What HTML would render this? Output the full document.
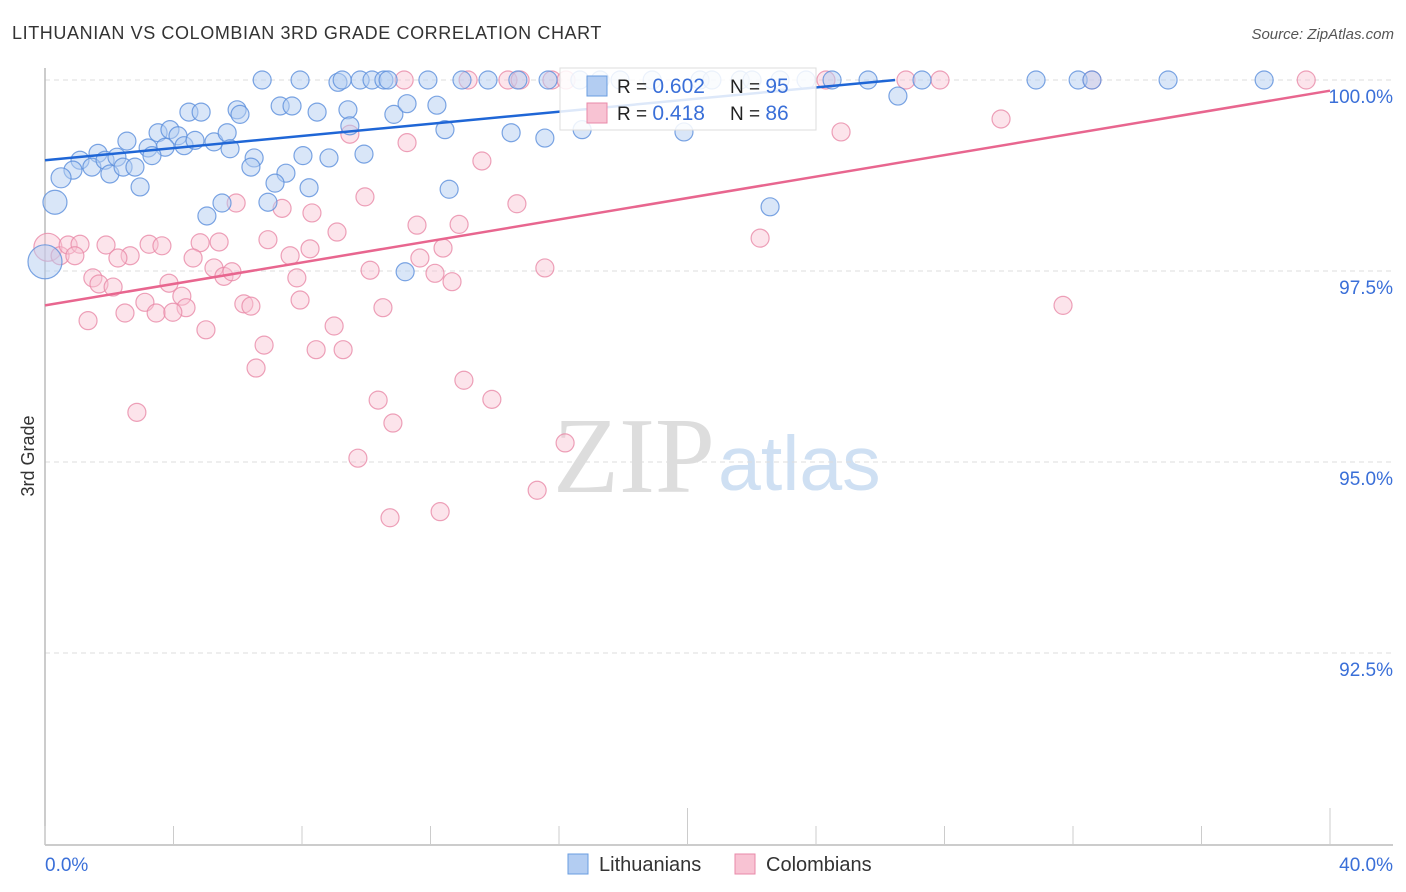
<!DOCTYPE html>
<html><head><meta charset="utf-8"><style>
body{margin:0;background:#fff;font-family:"Liberation Sans",sans-serif;}
#wrap{position:relative;width:1406px;height:892px;overflow:hidden}
</style></head><body>
<div id="wrap">
<svg id="chart" width="1406" height="892" font-family="Liberation Sans, sans-serif">
<text x="12" y="39" font-size="18" letter-spacing="0.6" fill="#333">LITHUANIAN VS COLOMBIAN 3RD GRADE CORRELATION CHART</text>
<text x="1394" y="39" font-size="15" fill="#555" text-anchor="end" font-style="italic">Source: ZipAtlas.com</text>
<text x="34" y="456" font-size="18" fill="#333" text-anchor="middle" transform="rotate(-90 34 456)">3rd Grade</text>
<g>
<text x="553" y="492" font-size="108" font-family="Liberation Serif, serif" fill="#ddd">ZIP</text>
<text x="718" y="490" font-size="77" fill="#cfe0f3">atlas</text>
</g>
<g id="grid"></g><g id="axes"></g><g id="pts"></g><g id="trend"></g>
<g>
<rect x="560" y="68" width="256" height="62" fill="#fff" fill-opacity="0.85" stroke="#ddd"/>
<rect x="587" y="76" width="20" height="20" fill="#b3cdf2" stroke="#6a9de0"/>
<text x="617" y="93" font-size="19" fill="#222">R = <tspan fill="#3a6fd8" font-size="21">0.602</tspan></text>
<text x="730" y="93" font-size="19" fill="#222">N = <tspan fill="#3a6fd8" font-size="21">95</tspan></text>
<rect x="587" y="103" width="20" height="20" fill="#f8c3d3" stroke="#e88aa8"/>
<text x="617" y="120" font-size="19" fill="#222">R = <tspan fill="#3a6fd8" font-size="21"> 0.418</tspan></text>
<text x="730" y="120" font-size="19" fill="#222">N = <tspan fill="#3a6fd8" font-size="21">86</tspan></text>
</g>
<g>
<rect x="568" y="854" width="20" height="20" fill="#b3cdf2" stroke="#6a9de0"/>
<text x="599" y="871" font-size="20" fill="#333">Lithuanians</text>
<rect x="735" y="854" width="20" height="20" fill="#f8c3d3" stroke="#e88aa8"/>
<text x="766" y="871" font-size="20" fill="#333">Colombians</text>
</g>
</svg></div>
<script>
const yTicks=[100,97.5,95,92.5];
const yTickLabels=["100.0%","97.5%","95.0%","92.5%"];
const xTickLabels=["0.0%","40.0%"];
const blueX=[6.76,7.94,9.12,9.25,9.81,10.18,10.55,10.68,11.92,12.98,13.79,14.72,15.66,16.65,18.90,21.64,22.01,22.88,24.50,25.62,27.30,30.85,32.16,32.59,34.96,37.95,17.28,17.90,20.39,20.76,23.69,26.55,4.48,4.86,5.98,6.07,7.32,7.69,8.47,9.43,10.86,11.27,12.20,9.49,12.45,14.51,15.56,16.72,19.89,2.55,3.52,3.89,4.14,4.33,4.67,5.26,5.67,5.76,3.74,3.21,3.33,1.65,1.09,1.46,0.87,0.50,0.31,1.87,2.02,2.24,2.43,2.80,2.96,6.51,6.41,8.03,8.84,9.93,7.50,7.16,8.22,6.94,5.51,5.04,12.58,22.57,11.21,0];
const blueY=[100,100,99.97,100,100,100,100,100,100,100,100,100,100,100,100,100,100,100,100,100,100,100,100,100,100,100,100,100,100,100,100,99.79,99.58,99.58,99.61,99.55,99.66,99.66,99.58,99.61,99.55,99.69,99.67,99.40,99.35,99.31,99.24,99.35,99.32,99.20,99.31,99.35,99.27,99.14,99.21,99.19,99.31,99.10,99.12,99.11,99.01,99.04,98.95,98.86,98.82,98.72,98.40,98.95,98.77,98.99,98.86,98.86,98.60,98.98,98.86,99.01,98.98,99.03,98.78,98.65,98.59,98.40,98.39,98.22,98.57,98.34,97.49,97.62];
const blueR=[9,9,9,9,9,9,9,9,9,9,9,9,9,9,9,9,9,9,9,9,9,9,9,9,9,9,9,9,9,9,9,9,9,9,9,9,9,9,9,9,9,9,9,9,9,9,9,9,9,9,9,9,9,9,9,9,9,9,9,9,9,9,9,9,9,10,12,9,9,9,9,9,9,9,9,9,9,9,9,9,9,9,9,9,9,9,9,17];
const pinkX=[11.18,13.17,14.41,14.79,15.78,16.22,24.31,26.80,27.86,32.59,39.26,29.76,24.78,9.49,11.27,13.60,5.95,7.38,8.31,9.96,11.58,12.89,14.69,9.09,0.09,0.47,0.72,1.09,0.93,1.90,2.65,2.27,3.24,3.64,4.83,5.42,4.61,6.94,8.25,7.63,5.26,5.57,5.82,7.84,10.12,11.67,12.39,12.14,12.67,15.56,22.26,1.49,1.68,2.12,3.86,4.26,3.11,4.39,3.46,3.98,6.19,6.41,7.94,10.52,2.49,1.34,9.00,5.01,6.82,8.44,9.28,6.57,13.04,10.37,13.91,2.86,10.83,16.19,9.74,15.32,12.30,10.74,31.69];
const pinkY=[100,100,100,100,100,100,100,100,100,100,100,99.49,99.32,99.29,99.18,98.94,98.39,98.32,98.26,98.47,98.10,98.11,98.38,98.01,97.81,97.70,97.84,97.85,97.70,97.84,97.70,97.67,97.85,97.83,97.87,97.88,97.67,97.91,97.79,97.70,97.54,97.43,97.49,97.41,97.51,97.67,97.80,97.47,97.36,97.54,97.93,97.41,97.33,97.29,97.34,97.17,97.09,97.02,96.95,96.96,97.07,97.04,97.12,97.02,96.95,96.85,96.78,96.73,96.53,96.47,96.47,96.23,96.07,95.81,95.82,95.65,95.51,95.25,95.05,94.63,94.35,94.27,97.05];
const pinkR0=[14];
const blueTrend=[[0,98.95],[26.46,100]];
const pinkTrend=[[0,97.05],[40,99.86]];
const NS="http://www.w3.org/2000/svg";
const X=p=>45+p*32.125, Y=v=>80+(100-v)*76.4;
function mk(t,a,parent){const e=document.createElementNS(NS,t);for(const k in a)e.setAttribute(k,a[k]);parent.appendChild(e);return e;}
const grid=document.getElementById('grid'),axes=document.getElementById('axes'),pts=document.getElementById('pts'),trend=document.getElementById('trend');
yTicks.forEach((v,i)=>{
 const l=mk('line',{x1:45,x2:1393,y1:Y(v),y2:Y(v),stroke:'#ddd','stroke-dasharray':'5,4'},grid);
 
 
 const t=mk('text',{x:1393,y:Y(v)+23,'font-size':19,fill:'#3a6fd8','text-anchor':'end'},grid);
 t.textContent=yTickLabels[i];
 
 
});
const ax=mk('line',{x1:45,x2:45,y1:68,y2:845,stroke:'#bbb','stroke-width':1.5},axes);


const bx=mk('line',{x1:45,x2:1393,y1:845,y2:845,stroke:'#bbb','stroke-width':1.5},axes);


for(let i=0;i<=10;i++){
 const p=i*4; const top=(i==5||i==10)?808:826;
 const tk=mk('line',{x1:X(p),x2:X(p),y1:top,y2:845,stroke:'#ccc'},axes);
 
 
}
[[0,'start'],[40,'end']].forEach((d,i)=>{
 const t=mk('text',{x:i?1393:45,y:871,'font-size':19,fill:'#3a6fd8','text-anchor':d[1]},axes);
 t.textContent=xTickLabels[i];
 
 
});
pinkX.forEach((p,i)=>{
 const c=mk('circle',{cx:X(p),cy:Y(pinkY[i]),r:i==24?pinkR0[0]:9,fill:'#f8c3d3','fill-opacity':0.45,stroke:'#e88aa8','stroke-opacity':0.8,'stroke-width':1.2},pts);
 
 
});
blueX.forEach((p,i)=>{
 const c=mk('circle',{cx:X(p),cy:Y(blueY[i]),r:blueR[i]||9,fill:'#b3cdf2','fill-opacity':0.5,stroke:'#5b8fdc','stroke-opacity':0.8,'stroke-width':1.2},pts);
 
 
});
const bl=mk('line',{x1:X(blueTrend[0][0]),y1:Y(blueTrend[0][1]),x2:X(blueTrend[1][0]),y2:Y(blueTrend[1][1]),stroke:'#1f66d6','stroke-width':2.5},trend);


const pl=mk('line',{x1:X(pinkTrend[0][0]),y1:Y(pinkTrend[0][1]),x2:X(pinkTrend[1][0]),y2:Y(pinkTrend[1][1]),stroke:'#e8668f','stroke-width':2.5},trend);


</script>
</body></html>
